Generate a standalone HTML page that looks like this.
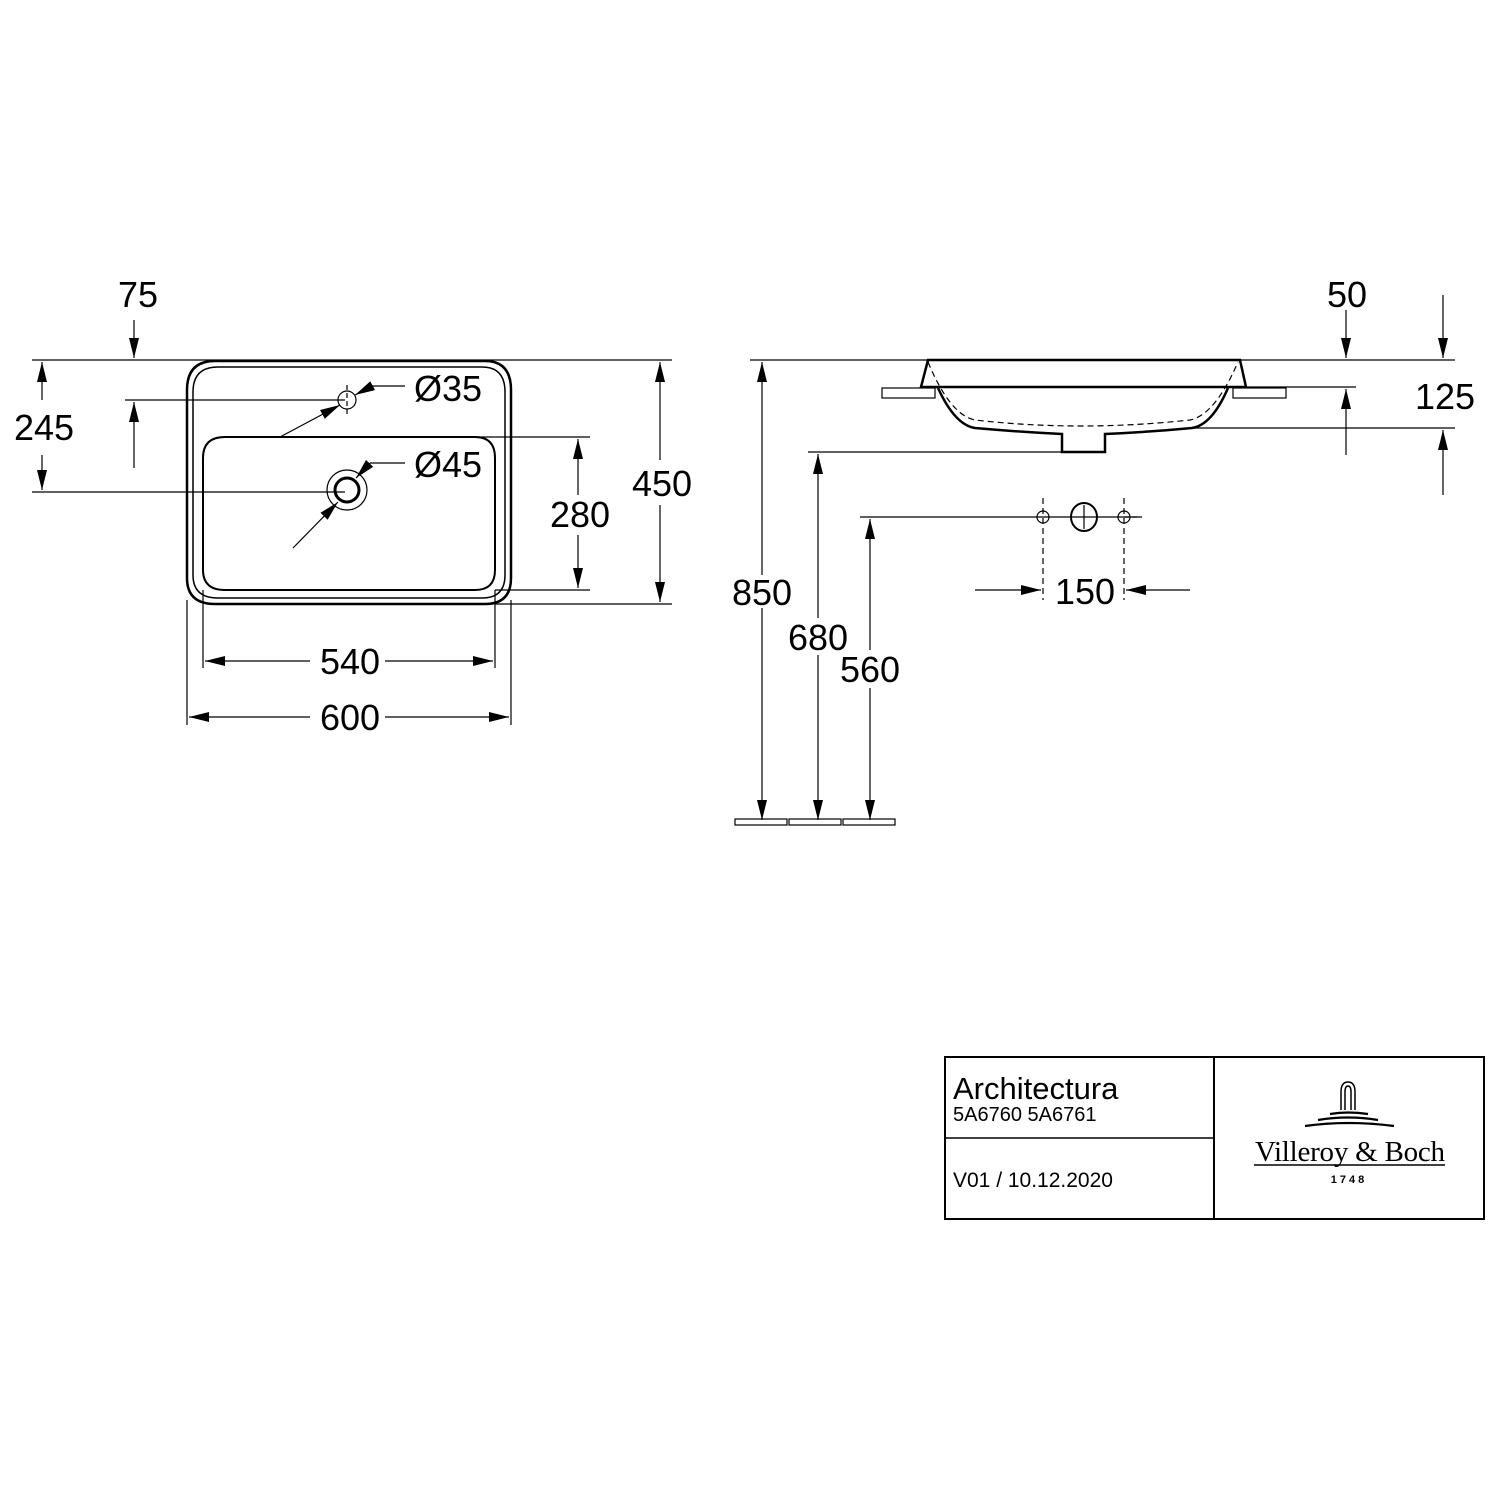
<!DOCTYPE html>
<html><head><meta charset="utf-8"><style>html,body{margin:0;padding:0;background:#fff}svg{display:block}</style></head><body>
<svg width="1500" height="1500" viewBox="0 0 1500 1500" xmlns="http://www.w3.org/2000/svg" font-family="Liberation Sans, sans-serif">
<defs>
<marker id="a" viewBox="0 0 20 10" refX="20" refY="5" markerWidth="20" markerHeight="10" markerUnits="userSpaceOnUse" orient="auto-start-reverse"><path d="M0,0L20,5L0,10z" fill="#000"/></marker>
</defs>
<g stroke="#000" fill="none" stroke-width="1.2">
<line x1="32" y1="360" x2="672" y2="360"/>
<line x1="32" y1="492" x2="345" y2="492"/>
<line x1="125" y1="400" x2="345" y2="400"/>
<line x1="280" y1="437" x2="590" y2="437"/>
<line x1="495" y1="590" x2="590" y2="590"/>
<line x1="495" y1="604" x2="672" y2="604"/>
<line x1="187" y1="600" x2="187" y2="725"/>
<line x1="511" y1="600" x2="511" y2="725"/>
<line x1="203" y1="590" x2="203" y2="668"/>
<line x1="495" y1="590" x2="495" y2="668"/>
<line x1="42" y1="400" x2="42" y2="362" marker-end="url(#a)"/>
<line x1="42" y1="455" x2="42" y2="490" marker-end="url(#a)"/>
<line x1="660" y1="460" x2="660" y2="362" marker-end="url(#a)"/>
<line x1="660" y1="505" x2="660" y2="602" marker-end="url(#a)"/>
<line x1="578" y1="495" x2="578" y2="439" marker-end="url(#a)"/>
<line x1="578" y1="535" x2="578" y2="588" marker-end="url(#a)"/>
<line x1="134" y1="320" x2="134" y2="358" marker-end="url(#a)"/>
<line x1="134" y1="468" x2="134" y2="402" marker-end="url(#a)"/>
<line x1="310" y1="661" x2="205" y2="661" marker-end="url(#a)"/>
<line x1="385" y1="661" x2="493" y2="661" marker-end="url(#a)"/>
<line x1="310" y1="717" x2="189" y2="717" marker-end="url(#a)"/>
<line x1="385" y1="717" x2="509" y2="717" marker-end="url(#a)"/>
<path stroke-width="2.5" d="M215,361 L485,361 Q511,361 511,390 L511,578 Q511,604 485,604 L215,604 Q187,604 187,578 L187,390 Q187,361 215,361Z"/>
<path stroke-width="1.5" d="M218,367 L482,367 Q505,367 505,392 L505,575 Q505,598 482,598 L218,598 Q193,598 193,575 L193,392 Q193,367 218,367Z"/>
<path stroke-width="2" d="M225,437 L475,437 Q495,437 495,458 L495,570 Q495,590 475,590 L225,590 Q203,590 203,570 L203,458 Q203,437 225,437Z"/>
<circle cx="347" cy="400" r="9"/>
<line x1="347" y1="385" x2="347" y2="415" stroke-dasharray="5,3"/>
<circle cx="347" cy="490" r="20"/>
<circle cx="347" cy="490" r="12" stroke-width="3"/>
<line x1="280" y1="437" x2="340" y2="405" marker-end="url(#a)"/>
<line x1="355" y1="395" x2="372" y2="386" marker-start="url(#a)"/>
<line x1="372" y1="386" x2="405" y2="386"/>
<line x1="293" y1="548" x2="338" y2="502" marker-end="url(#a)"/>
<line x1="356" y1="478" x2="370" y2="463" marker-start="url(#a)"/>
<line x1="370" y1="463" x2="405" y2="463"/>
<line x1="750" y1="360" x2="1455" y2="360"/>
<line x1="1240" y1="387" x2="1356" y2="387"/>
<line x1="1190" y1="428" x2="1455" y2="428"/>
<line x1="808" y1="452" x2="1062" y2="452"/>
<line x1="860" y1="517" x2="1140" y2="517"/>
<line x1="1346" y1="310" x2="1346" y2="358" marker-end="url(#a)"/>
<line x1="1346" y1="455" x2="1346" y2="389" marker-end="url(#a)"/>
<line x1="1443" y1="295" x2="1443" y2="358" marker-end="url(#a)"/>
<line x1="1443" y1="495" x2="1443" y2="430" marker-end="url(#a)"/>
<line x1="762" y1="575" x2="762" y2="362" marker-end="url(#a)"/>
<line x1="762" y1="608" x2="762" y2="820" marker-end="url(#a)"/>
<line x1="818" y1="618" x2="818" y2="454" marker-end="url(#a)"/>
<line x1="818" y1="655" x2="818" y2="820" marker-end="url(#a)"/>
<line x1="870" y1="650" x2="870" y2="519" marker-end="url(#a)"/>
<line x1="870" y1="688" x2="870" y2="820" marker-end="url(#a)"/>
<rect x="735" y="819" width="52" height="6"/>
<rect x="789" y="819" width="52" height="6"/>
<rect x="843" y="819" width="52" height="6"/>
<rect x="882" y="388" width="53" height="10"/>
<rect x="1233" y="388" width="53" height="10"/>
<path stroke-width="2.5" d="M928,360 L1240,360 L1246,387 L921,387 Z"/>
<path stroke-width="2.5" d="M938,388 Q955,425 975,428 Q1020,432 1062,434 L1062,452 L1105,452 L1105,434 Q1150,432 1192,428 Q1212,425 1228,388"/>
<path stroke-dasharray="6,4" d="M928,362 Q950,415 975,420 Q1080,432 1190,420 Q1215,415 1238,362"/>
<circle cx="1043" cy="517" r="6"/>
<ellipse cx="1084" cy="517" rx="13" ry="14" stroke-width="2"/>
<circle cx="1124" cy="517" r="6"/>
<line x1="1043" y1="498" x2="1043" y2="600" stroke-dasharray="6,4"/>
<line x1="1124" y1="498" x2="1124" y2="600" stroke-dasharray="6,4"/>
<line x1="1124" y1="517" x2="1142" y2="517" stroke-dasharray="5,3"/>
<line x1="1084" y1="505" x2="1084" y2="529"/>
<line x1="975" y1="590" x2="1041" y2="590" marker-end="url(#a)"/>
<line x1="1190" y1="590" x2="1126" y2="590" marker-end="url(#a)"/>
<rect x="945" y="1057" width="539" height="162" stroke-width="2"/>
<line x1="1214" y1="1057" x2="1214" y2="1219" stroke-width="2"/>
<line x1="945" y1="1138" x2="1214" y2="1138" stroke-width="1.5"/>
<path d="M1341,1110 L1341,1092 Q1341,1082 1348,1082 Q1355,1082 1355,1092 L1355,1110 M1345,1110 L1345,1092 Q1345,1086 1348,1086 Q1351,1086 1351,1092 L1351,1110" stroke-width="1.5"/>
<path d="M1330,1114 Q1348,1111 1368,1114 M1318,1120 Q1348,1115 1378,1120 M1305,1126 Q1348,1120 1394,1126" stroke-width="2.2"/>
<line x1="1254" y1="1165" x2="1445" y2="1165" stroke-width="1.5"/>
</g>
<g font-size="36" text-anchor="middle" fill="#000">
<text x="138" y="307">75</text>
<text x="44" y="440">245</text>
<text x="662" y="496">450</text>
<text x="580" y="527">280</text>
<text x="350" y="674">540</text>
<text x="350" y="730">600</text>
<text x="448" y="401">Ø35</text>
<text x="448" y="477">Ø45</text>
<text x="1347" y="307">50</text>
<text x="1445" y="409">125</text>
<text x="762" y="605">850</text>
<text x="818" y="650">680</text>
<text x="870" y="682">560</text>
<text x="1085" y="604">150</text>
</g>
<text x="953" y="1099" font-size="31" fill="#000">Architectura</text>
<text x="953" y="1121" font-size="20" fill="#000">5A6760 5A6761</text>
<text x="953" y="1187" font-size="21" fill="#000">V01 / 10.12.2020</text>
<text x="1350" y="1161" font-size="29" text-anchor="middle" font-family="Liberation Serif, serif" fill="#000" textLength="190">Villeroy &amp; Boch</text>
<text x="1349" y="1183" font-size="11" text-anchor="middle" font-weight="bold" letter-spacing="3" fill="#000">1748</text>
</svg>
</body></html>
